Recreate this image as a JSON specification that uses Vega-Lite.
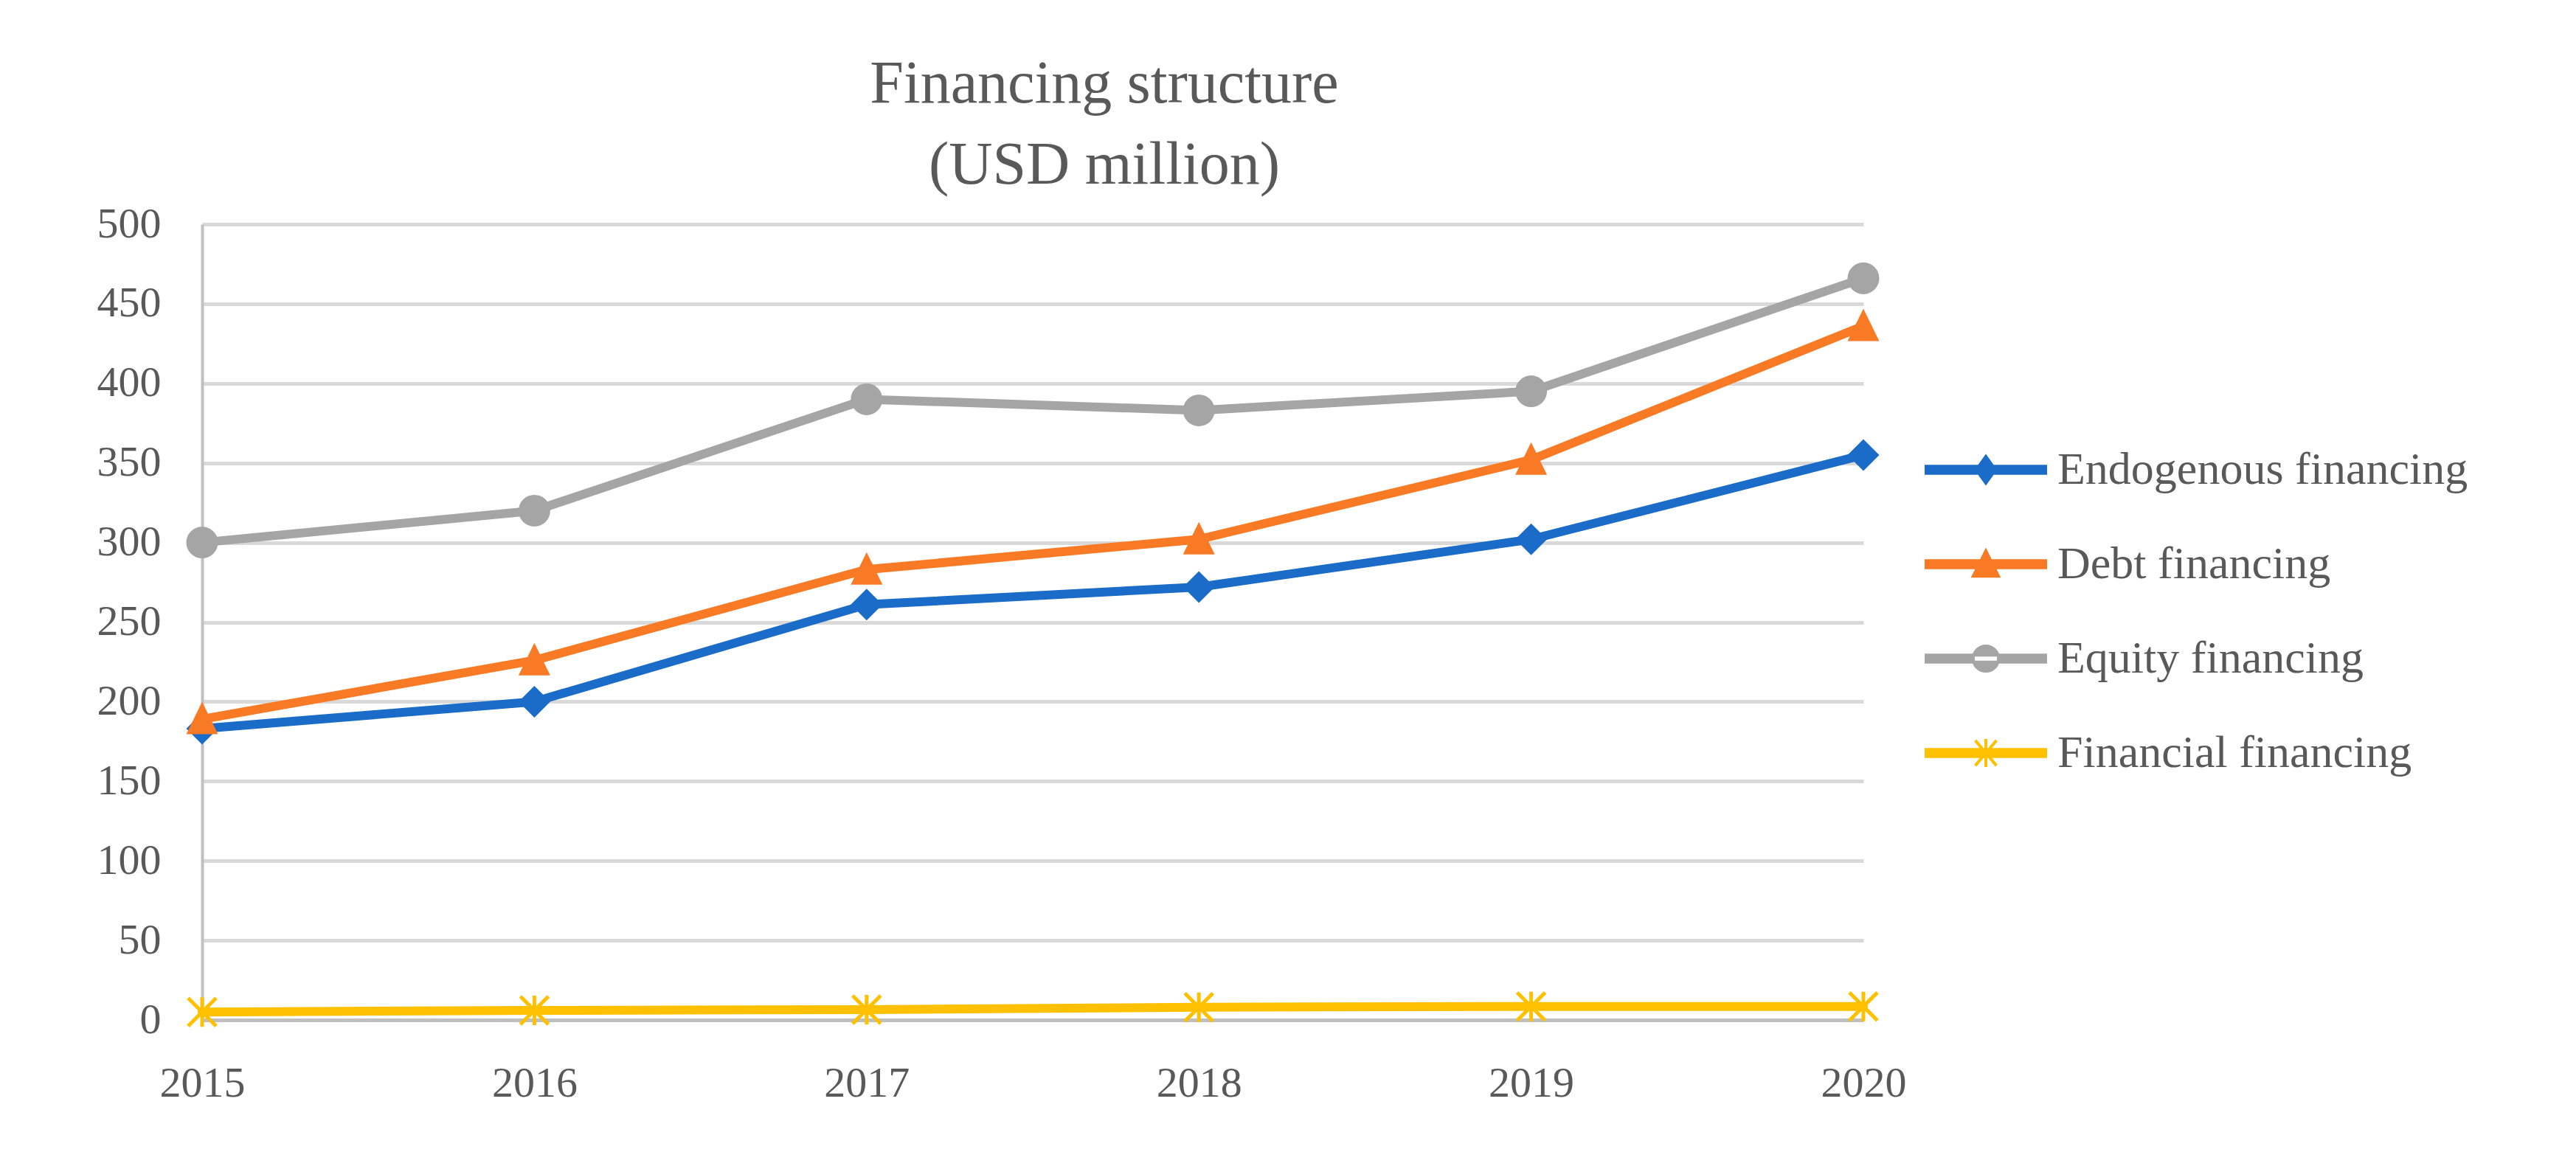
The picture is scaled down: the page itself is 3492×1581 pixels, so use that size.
{
  "$schema": "https://vega.github.io/schema/vega-lite/v6.json",
  "autosize": {"type": "none"},
  "padding": {"left": 274, "top": 304, "right": 966, "bottom": 198},
  "width": 2252,
  "height": 1079,
  "background": "white",
  "title": {
    "text": ["Financing structure", "(USD million)"],
    "font": "Liberation Serif",
    "fontSize": 82,
    "fontWeight": "normal",
    "color": "#595959",
    "lineHeight": 110,
    "anchor": "middle",
    "dx": 97,
    "offset": 9
  },
  "data": {
    "values": [
      {"year": "2015", "series": "Endogenous financing", "value": 183},
      {"year": "2016", "series": "Endogenous financing", "value": 200},
      {"year": "2017", "series": "Endogenous financing", "value": 261},
      {"year": "2018", "series": "Endogenous financing", "value": 272},
      {"year": "2019", "series": "Endogenous financing", "value": 302},
      {"year": "2020", "series": "Endogenous financing", "value": 355},
      {"year": "2015", "series": "Debt financing", "value": 189},
      {"year": "2016", "series": "Debt financing", "value": 226},
      {"year": "2017", "series": "Debt financing", "value": 283},
      {"year": "2018", "series": "Debt financing", "value": 302},
      {"year": "2019", "series": "Debt financing", "value": 352},
      {"year": "2020", "series": "Debt financing", "value": 436},
      {"year": "2015", "series": "Equity financing", "value": 300},
      {"year": "2016", "series": "Equity financing", "value": 320},
      {"year": "2017", "series": "Equity financing", "value": 390},
      {"year": "2018", "series": "Equity financing", "value": 383},
      {"year": "2019", "series": "Equity financing", "value": 395},
      {"year": "2020", "series": "Equity financing", "value": 466},
      {"year": "2015", "series": "Financial financing", "value": 5},
      {"year": "2016", "series": "Financial financing", "value": 6},
      {"year": "2017", "series": "Financial financing", "value": 6.5},
      {"year": "2018", "series": "Financial financing", "value": 8},
      {"year": "2019", "series": "Financial financing", "value": 8.5},
      {"year": "2020", "series": "Financial financing", "value": 8.5}
    ]
  },
  "encoding": {
    "x": {
      "field": "year", "type": "ordinal",
      "scale": {"type": "point", "padding": 0},
      "axis": {
        "title": null, "labelAngle": 0, "ticks": false, "tickSize": 0,
        "labelPadding": 57, "domainColor": "#bfbfbf", "domainWidth": 5
      }
    },
    "y": {
      "field": "value", "type": "quantitative",
      "scale": {"domain": [0, 500], "nice": false},
      "axis": {
        "title": null, "values": [0, 50, 100, 150, 200, 250, 300, 350, 400, 450, 500],
        "ticks": false, "tickSize": 0, "labelPadding": 56,
        "domainColor": "#c0c0c0", "domainWidth": 4,
        "gridColor": "#d9d9d9", "gridWidth": 5
      }
    },
    "color": {
      "field": "series", "type": "nominal",
      "scale": {
        "domain": ["Endogenous financing", "Debt financing", "Equity financing", "Financial financing"],
        "range": ["#1a6cc8", "#f97a25", "#a5a5a5", "#ffc000"]
      },
      "legend": {
        "title": null,
        "orient": "none",
        "legendX": 2387,
        "legendY": 302,
        "padding": 0,
        "rowPadding": 66,
        "labelFont": "Liberation Serif",
        "labelFontSize": 62,
        "labelColor": "#595959",
        "labelOffset": 66,
        "labelLimit": 0,
        "symbolSize": 1296,
        "encode": {
          "symbols": {
            "update": {
              "shape": {"signal": "datum.value === 'Endogenous financing' ? 'M-4.5,-0.27H4.5V0.27H-4.5Z M0,-1L0.72,0L0,1L-0.72,0Z' : datum.value === 'Debt financing' ? 'M-4.5,-0.27H4.5V0.27H-4.5Z M0,-1L0.95,0.9L-0.95,0.9Z' : datum.value === 'Equity financing' ? 'M-4.5,-0.27H4.5V0.27H-4.5Z M-0.95,0A0.95,0.95 0 1,0 0.95,0A0.95,0.95 0 1,0 -0.95,0Z' : 'M-4.5,-0.27H4.5V0.27H-4.5Z M-0.8,-0.95L0.8,0.95M0.8,-0.95L-0.8,0.95M0,-1.05V1.05'"},
              "fill": {"scale": "color", "field": "value"},
              "stroke": {"scale": "color", "field": "value"},
              "strokeWidth": {"value": 4},
              "size": {"value": 1296},
              "opacity": {"value": 1}
            }
          }
        }
      }
    }
  },
  "layer": [
    {
      "mark": {"type": "line", "strokeWidth": 12, "strokeJoin": "round", "strokeCap": "round"}
    },
    {
      "transform": [{"filter": "datum.series !== 'Financial financing'"}],
      "mark": {"type": "point", "filled": true, "opacity": 1, "size": 1850},
      "encoding": {
        "shape": {
          "field": "series", "type": "nominal",
          "scale": {
            "domain": ["Endogenous financing", "Debt financing", "Equity financing"],
            "range": ["diamond", "M0,-1.1L1,0.95L-1,0.95Z", "circle"]
          },
          "legend": null
        }
      }
    },
    {
      "transform": [{"filter": "datum.series === 'Financial financing'"}],
      "mark": {
        "type": "point", "filled": false, "opacity": 1, "size": 1600, "strokeWidth": 5,
        "shape": "M-0.95,-0.95L0.95,0.95M0.95,-0.95L-0.95,0.95M0,-1V1"
      }
    }
  ],
  "config": {
    "view": {"stroke": null},
    "axis": {
      "labelFont": "Liberation Serif",
      "labelFontSize": 58,
      "labelColor": "#595959"
    }
  }
}
